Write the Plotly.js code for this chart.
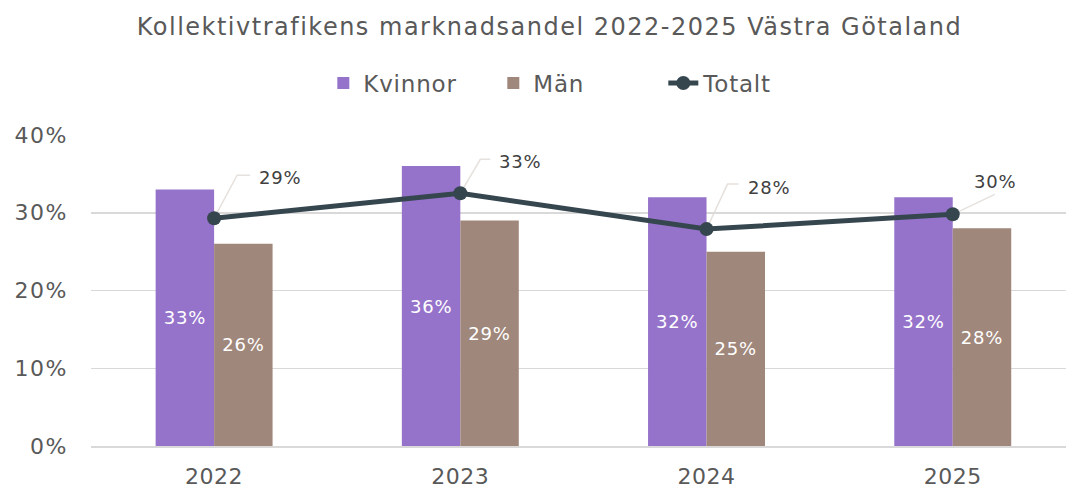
<!DOCTYPE html>
<html><head><meta charset="utf-8">
<script src="https://cdn.plot.ly/plotly-3.0.1.min.js"></script>
<style>
html,body{margin:0;padding:0;overflow:hidden;background:#fff}
.gtitle{letter-spacing:1.5px}
.legendtext{letter-spacing:0.8px}
.xtick text{letter-spacing:0.5px}
.ytick text{letter-spacing:1.5px}
.bartext,.annotation-text{letter-spacing:0.8px}
</style>
</head><body><div id="chart" style="width:1067px;height:491px"></div>
<script>
const years = ['2022', '2023', '2024', '2025'];
const kvinnor = [0.33, 0.36, 0.32, 0.32];
const man = [0.26, 0.29, 0.25, 0.28];
const totalt = [0.293, 0.325, 0.279, 0.298];
const yTicks = [0, 0.1, 0.2, 0.3, 0.4];
const yTickLabels = ['0%', '10%', '20%', '30%', '40%'];

const FONT = 'DejaVu Sans, Verdana, sans-serif';
const pct = v => Math.round(v * 100) + '%';

// label offsets (pixels) for the Totalt labels and leader paths
const lblOff = [[66, 41], [60, 32], [62, 42], [42, 33]];
const leader = ['M0,0 L23,43 L36,43', 'M0,0 L20,34 L30,34', 'M0,0 L21,45 L32,45', 'M0,0 L42,20'];

const traces = [
  {type: 'bar', name: 'Kvinnor', x: years, y: kvinnor, marker: {color: '#9673CB'},
   text: kvinnor.map(pct), textposition: 'inside', insidetextanchor: 'middle', textangle: 0,
   constraintext: 'none', textfont: {color: '#ffffff', size: 18, family: FONT}, hoverinfo: 'none'},
  {type: 'bar', name: 'Män', x: years, y: man, marker: {color: '#A0877B'},
   text: man.map(pct), textposition: 'inside', insidetextanchor: 'middle', textangle: 0,
   constraintext: 'none', textfont: {color: '#ffffff', size: 18, family: FONT}, hoverinfo: 'none'},
  {type: 'scatter', mode: 'lines+markers', name: 'Totalt', x: years, y: totalt,
   line: {color: '#36464F', width: 5}, marker: {color: '#36464F', size: 14}, hoverinfo: 'none'}
];

const annotations = totalt.map((v, i) => ({
  x: i, y: v, xref: 'x', yref: 'y', text: pct(v), showarrow: false,
  xshift: lblOff[i][0], yshift: lblOff[i][1],
  font: {family: FONT, size: 18, color: '#404040'}
}));

const shapes = totalt.map((v, i) => ({
  type: 'path', xref: 'x', yref: 'y', xsizemode: 'pixel', ysizemode: 'pixel',
  xanchor: i, yanchor: v, path: leader[i],
  line: {color: '#E6E1DD', width: 1.5}, layer: 'below'
}));

const layout = {
  width: 1067, height: 491,
  margin: {l: 91, r: 1, t: 135, b: 45},
  paper_bgcolor: '#ffffff', plot_bgcolor: '#ffffff',
  font: {family: FONT, color: '#595959'},
  title: {text: 'Kollektivtrafikens marknadsandel 2022-2025 Västra Götaland',
    font: {family: FONT, size: 24, color: '#595959'},
    x: 0.515, xref: 'container', xanchor: 'center', y: 1 - 27 / 491, yref: 'container', yanchor: 'middle'},
  barmode: 'group', bargap: 0.525, bargroupgap: 0,
  showlegend: true,
  legend: {orientation: 'h', x: 0.542, xref: 'container', xanchor: 'center',
    y: 1 - 83 / 491, yref: 'container', yanchor: 'middle', entrywidth: 125, entrywidthmode: 'pixels',
    font: {family: FONT, size: 23, color: '#595959'}, traceorder: 'normal'},
  xaxis: {type: 'category', range: [-0.5, 3.46], showgrid: false, showline: true,
    linecolor: '#D9D9D9', linewidth: 1.5, ticks: '', tickfont: {family: FONT, size: 22, color: '#595959'},
    ticklabelstandoff: 10, fixedrange: true},
  yaxis: {range: [0, 0.4], tickvals: yTicks, ticktext: yTickLabels, showgrid: true,
    gridcolor: '#D9D9D9', gridwidth: 1.5, zeroline: false, showline: false, ticks: '',
    tickfont: {family: FONT, size: 22, color: '#595959'}, ticklabelstandoff: 22, fixedrange: true},
  annotations: annotations,
  shapes: shapes
};

Plotly.newPlot('chart', traces, layout, {displayModeBar: false, staticPlot: true});
</script></body></html>
